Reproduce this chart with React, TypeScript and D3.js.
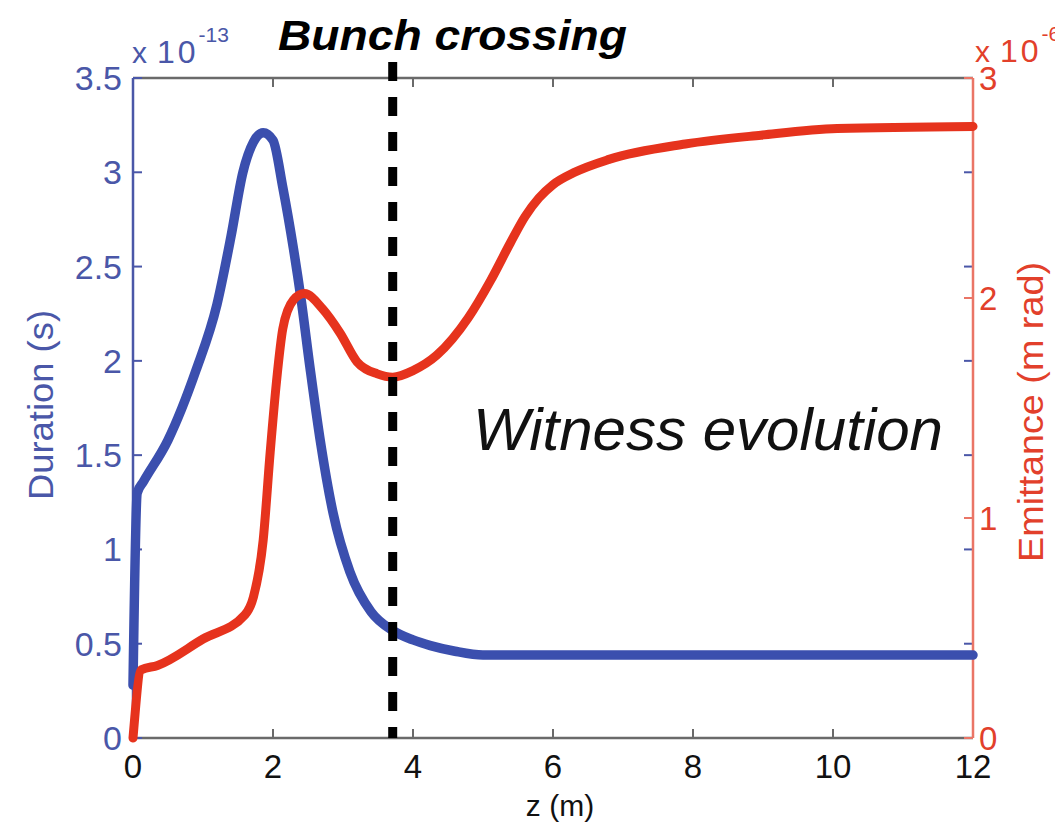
import React from "react";
import * as d3 from "d3";

// Witness bunch: pulse duration (×1e-13 s) vs z (m)
const zDuration = [0, 0.06, 0.15, 0.5, 0.9, 1.2, 1.4, 1.57, 1.72, 1.86, 2.0, 2.14, 2.29, 2.4, 2.53, 2.67, 2.86, 3.1, 3.4, 3.71, 4.0, 4.25, 4.6, 5.0, 6, 8, 10, 12];
const duration = [0.28, 1.3, 1.36, 1.58, 1.95, 2.3, 2.66, 3.0, 3.16, 3.21, 3.17, 2.92, 2.6, 2.33, 1.96, 1.59, 1.19, 0.88, 0.67, 0.57, 0.52, 0.49, 0.46, 0.44, 0.44, 0.44, 0.44, 0.44];

// Witness bunch: emittance (×1e-6 m rad) vs z (m)
const zEmittance = [0, 0.12, 0.35, 1.0, 1.6, 1.72, 1.86, 1.96, 2.05, 2.14, 2.29, 2.45, 2.71, 2.96, 3.2, 3.49, 3.71, 4.0, 4.34, 4.79, 5.11, 5.39, 5.6, 5.8, 6.0, 6.3, 6.8, 7.89, 8.97, 10.06, 12];
const emittance = [0, 0.31, 0.33, 0.45, 0.56, 0.64, 0.9, 1.3, 1.62, 1.86, 1.99, 2.02, 1.95, 1.84, 1.71, 1.655, 1.64, 1.67, 1.74, 1.91, 2.08, 2.25, 2.37, 2.455, 2.515, 2.57, 2.63, 2.7, 2.74, 2.77, 2.78];

const bunchCrossingZ = 3.71;

const xTicks = [0, 2, 4, 6, 8, 10, 12];
const leftTicks = [0, 0.5, 1, 1.5, 2, 2.5, 3, 3.5];
const leftTickLabels = ["0", "0.5", "1", "1.5", "2", "2.5", "3", "3.5"];
const rightTicks = [0, 1, 2, 3];

const BLUE = "#3b4fae";
const BLUE_AXIS = "#4a57a8";
const RED = "#e6331d";
const RED_AXIS = "#ea7566";
const RED_TEXT = "#e2402b";
const GRAY = "#6a6a6a";
const FONT = "'Liberation Sans', Arial, Helvetica, sans-serif";

export default function App() {
  const W = 1055;
  const H = 826;
  const left = 133, right = 973, top = 78, bottom = 738;

  const x = d3.scaleLinear().domain([0, 12]).range([left, right]);
  const yL = d3.scaleLinear().domain([0, 3.5]).range([bottom, top]);
  const yR = d3.scaleLinear().domain([0, 3]).range([bottom, top]);

  const durLine = d3
    .line<number>()
    .x((_, i) => x(zDuration[i]))
    .y((d) => yL(d))
    .curve(d3.curveMonotoneX);
  const emLine = d3
    .line<number>()
    .x((_, i) => x(zEmittance[i]))
    .y((d) => yR(d))
    .curve(d3.curveMonotoneX);

  const tickLen = 9;
  const xb = x(bunchCrossingZ);

  return (
    <svg width={W} height={H} style={{ display: "block", position: "absolute", left: 0, top: 0, background: "#fff" }} fontFamily={FONT}>
      <rect x={0} y={0} width={W} height={H} fill="#fff" />

      {/* box: top and bottom axes */}
      <line x1={left} x2={right} y1={bottom} y2={bottom} stroke={GRAY} strokeWidth={2.5} />
      <line x1={left} x2={right} y1={top} y2={top} stroke={GRAY} strokeWidth={2.5} />
      {xTicks.map((t) => (
        <g key={"xt" + t}>
          <line x1={x(t)} x2={x(t)} y1={bottom} y2={bottom - tickLen} stroke={GRAY} strokeWidth={2} />
          <line x1={x(t)} x2={x(t)} y1={top} y2={top + tickLen} stroke={GRAY} strokeWidth={2} />
          <text x={x(t)} y={778} textAnchor="middle" fontSize={33} fill="#111">
            {t}
          </text>
        </g>
      ))}

      {/* left axis (duration) */}
      <line x1={left} x2={left} y1={top} y2={bottom} stroke={BLUE_AXIS} strokeWidth={2.5} />
      {leftTicks.map((t, i) => (
        <g key={"yl" + t}>
          <line x1={left} x2={left + tickLen} y1={yL(t)} y2={yL(t)} stroke={BLUE_AXIS} strokeWidth={2} />
          <line x1={right} x2={right - tickLen} y1={yL(t)} y2={yL(t)} stroke={BLUE_AXIS} strokeWidth={2} />
          <text x={122} y={yL(t) + 12} textAnchor="end" fontSize={34} fill={BLUE_AXIS}>
            {leftTickLabels[i]}
          </text>
        </g>
      ))}
      <text x={132} y={63} fontSize={30} fill={BLUE_AXIS}>
        x
        <tspan dx={10} fontSize={32} letterSpacing={3}>10</tspan>
        <tspan dx={0} dy={-21} fontSize={21}>-13</tspan>
      </text>
      <text
        transform={`translate(53,405) rotate(-90)`}
        textAnchor="middle"
        fontSize={35}
        fill={BLUE_AXIS}
        textLength={190}
        lengthAdjust="spacingAndGlyphs"
      >
        Duration (s)
      </text>

      {/* right axis (emittance) */}
      <line x1={right} x2={right} y1={top} y2={bottom} stroke={RED_AXIS} strokeWidth={2.5} />
      {rightTicks.map((t) => (
        <g key={"yr" + t}>
          <line x1={right} x2={right - tickLen} y1={yR(t)} y2={yR(t)} stroke={RED_AXIS} strokeWidth={2} />
          <text x={979} y={yR(t) + 12} textAnchor="start" fontSize={33} fill={RED_TEXT}>
            {t}
          </text>
        </g>
      ))}
      <text x={975} y={62} fontSize={30} fill={RED_TEXT}>
        x
        <tspan dx={10} fontSize={32} letterSpacing={3}>10</tspan>
        <tspan dx={0} dy={-21} fontSize={21}>-6</tspan>
      </text>
      <text
        transform={`translate(1043,412) rotate(-90)`}
        textAnchor="middle"
        fontSize={35}
        fill={RED_TEXT}
        textLength={300}
        lengthAdjust="spacingAndGlyphs"
      >
        Emittance (m rad)
      </text>

      {/* curves */}
      <path d={durLine(duration) ?? ""} fill="none" stroke={BLUE} strokeWidth={9.5} strokeLinejoin="round" strokeLinecap="round" />
      <path d={emLine(emittance) ?? ""} fill="none" stroke={RED} strokeWidth={9} strokeLinejoin="round" strokeLinecap="round" />

      {/* bunch crossing marker */}
      <line x1={xb} x2={xb} y1={62} y2={bottom} stroke="#000" strokeWidth={9} strokeDasharray="19 16" />

      <text
        x={278}
        y={50}
        fontSize={42}
        fontWeight="bold"
        fontStyle="italic"
        fill="#000"
        textLength={349}
        lengthAdjust="spacingAndGlyphs"
      >
        Bunch crossing
      </text>
      <text
        x={473}
        y={450}
        fontSize={60}
        fontStyle="italic"
        fill="#111"
        textLength={470}
        lengthAdjust="spacingAndGlyphs"
      >
        Witness evolution
      </text>

      <text x={560} y={816} textAnchor="middle" fontSize={30} fill="#111">
        z (m)
      </text>
    </svg>
  );
}
